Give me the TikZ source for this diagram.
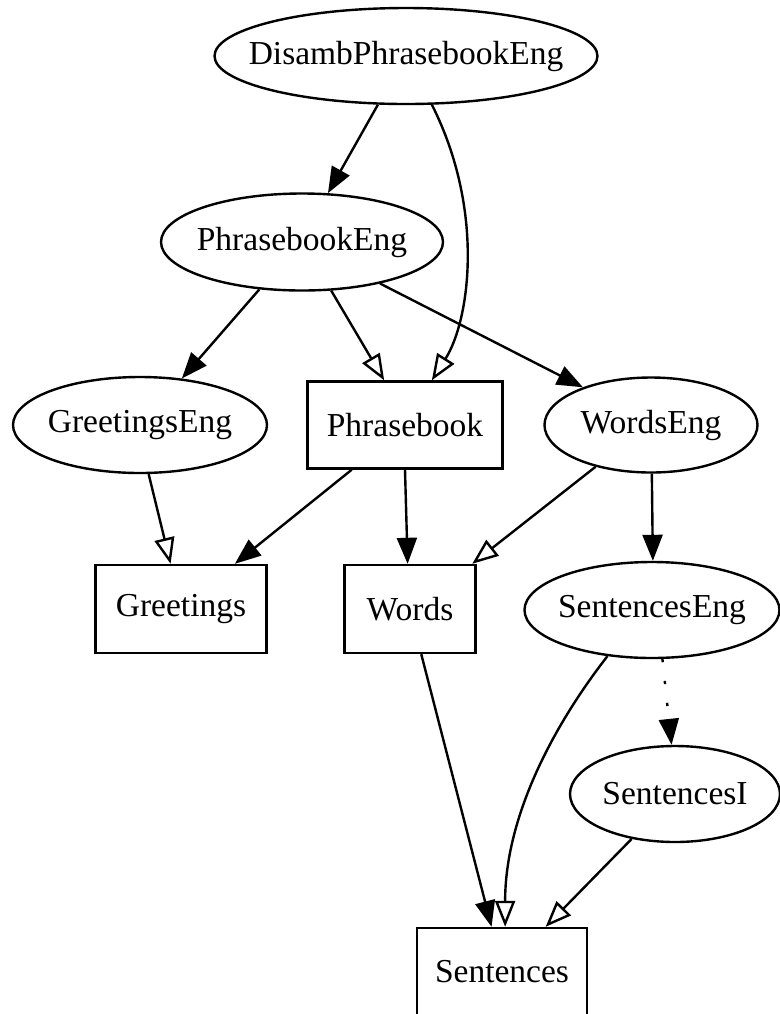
\documentclass[tikz,border=0pt]{standalone}
\usepackage{fontspec}
\setmainfont{Liberation Serif}
\usetikzlibrary{arrows.meta}
\usetikzlibrary{shapes.geometric}
\newcommand{\ntext}[1]{\makebox[0pt]{#1}}

\begin{document}
\begin{tikzpicture}[x=0.5pt, y=0.5pt, line width=1.2pt,
  font=\fontsize{16.75pt}{20pt}\selectfont,
  eng/.style={ellipse, draw, inner sep=0pt, minimum height=48pt},
  mod/.style={rectangle, draw, inner sep=0pt, minimum height=44pt},
  inh/.style={-{Triangle[length=13pt, width=10pt]}},
  ext/.style={-{Triangle[open, length=13pt, width=10pt]}}]
  \useasboundingbox (0,0) rectangle (780,-1014);

  \node[eng, minimum width=191.5pt] (DPE) at (406,-56) {\ntext{DisambPhrasebookEng}};
  \node[eng, minimum width=141pt, minimum height=48.5pt] (PE) at (302,-242) {\ntext{PhrasebookEng}};
  \node[eng, minimum width=127pt] (GE) at (140,-425) {\ntext{GreetingsEng}};
  \node[mod, minimum width=97.5pt, minimum height=43.5pt] (P) at (405,-425) {Phrasebook};
  \node[eng, minimum width=106.5pt, minimum height=47.5pt] (WE) at (651,-425) {\ntext{WordsEng}};
  \node[mod, minimum width=85.5pt] (G) at (181,-609) {Greetings};
  \node[mod, minimum width=65.5pt] (W) at (410,-609) {Words};
  \node[eng, minimum width=127.5pt] (SE) at (652,-610) {\ntext{SentencesEng}};
  \node[eng, minimum width=105pt] (SI) at (675,-794) {\ntext{SentencesI}};
  \node[mod, minimum width=85pt] (S) at (502,-972) {Sentences};

  \draw[inh] (DPE.-120) -- (PE.62);
  \draw[ext] (DPE.-62) .. controls (485,-210) and (470,-320) .. (P.59);
  \draw[inh] (PE.-132) -- (GE.48);
  \draw[ext] (PE.-59) -- (P.115);
  \draw[inh] (PE.-28) -- (WE.151);
  \draw[ext] (GE.-80) -- (G.103);
  \draw[inh] (P.-140) -- (G.40);
  \draw[inh] (P.-90) -- (W.93);
  \draw[ext] (WE.-143) -- (W.36);
  \draw[inh] (WE.-89) -- (SE.89);
  \draw[inh] (W.-76) -- (S.103);
  \draw[ext] (SE.-134) .. controls (550,-730) and (505,-820) .. (S.86);
  \draw[inh, dash pattern=on 1.6pt off 9.4pt] (SE.-78) -- (SI.94);
  \draw[ext] (SI.-134) -- (S.46);
\end{tikzpicture}
\end{document}
